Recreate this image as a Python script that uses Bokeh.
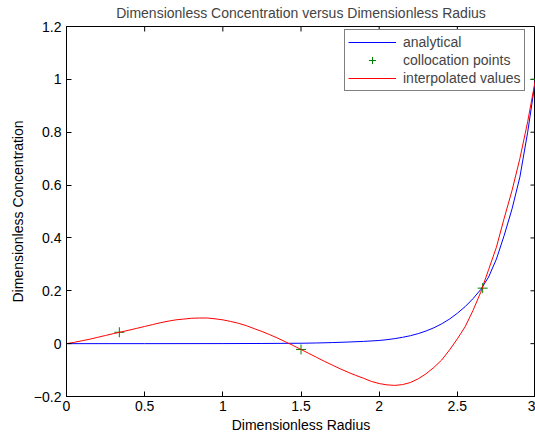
import math
from bokeh.plotting import figure
from bokeh.models import FixedTicker, Legend, LegendItem, Range1d
from bokeh.embed import file_html
from bokeh.resources import INLINE

# ---- data ----
analytical_x = [0, 0.5, 1.0, 1.25, 1.5, 1.6, 1.7, 1.8, 1.9, 2.0, 2.05, 2.1, 2.15, 2.2, 2.25,
                2.3, 2.35, 2.4, 2.45, 2.5, 2.55, 2.6, 2.65, 2.7, 2.75, 2.8, 2.85, 2.9, 2.95, 3.0]
analytical_y = [0, 0, 0.0002, 0.0006, 0.0015, 0.0025, 0.004, 0.006, 0.0085, 0.012, 0.015,
                0.019, 0.024, 0.030, 0.038, 0.048, 0.06, 0.075, 0.093, 0.115, 0.14, 0.17,
                0.205, 0.252, 0.32, 0.41, 0.51, 0.63, 0.8, 1.0]

colloc_x = [0, 0.338, 1.5, 2.662, 3.0]
colloc_y = [0, 0.043, -0.022, 0.21, 1.0]

interp_x = [0, 0.05, 0.1, 0.15, 0.2, 0.25, 0.3, 0.34, 0.4, 0.45, 0.5, 0.55, 0.6, 0.65, 0.7,
            0.75, 0.8, 0.85, 0.9, 0.95, 1.0, 1.05, 1.1, 1.15, 1.2, 1.25, 1.3, 1.35, 1.4,
            1.45, 1.5, 1.55, 1.6, 1.65, 1.7, 1.75, 1.8, 1.85, 1.9, 1.95, 2.0, 2.05, 2.1,
            2.15, 2.2, 2.25, 2.3, 2.35, 2.4, 2.45, 2.5, 2.55, 2.6, 2.65, 2.7, 2.75, 2.8,
            2.85, 2.9, 2.95, 3.0]
interp_y = [0, 0.005, 0.011, 0.017, 0.024, 0.031, 0.038, 0.043, 0.051, 0.058, 0.065, 0.072,
            0.079, 0.085, 0.090, 0.093, 0.096, 0.097, 0.097, 0.094, 0.090, 0.084, 0.077,
            0.068, 0.057, 0.046, 0.034, 0.021, 0.007, -0.007, -0.022, -0.037, -0.052,
            -0.067, -0.081, -0.095, -0.108, -0.120, -0.131, -0.143, -0.151, -0.156, -0.158,
            -0.155, -0.147, -0.133, -0.114, -0.090, -0.062, -0.024, 0.018, 0.064, 0.125,
            0.195, 0.28, 0.365, 0.475, 0.58, 0.70, 0.84, 1.0]

x_ticks = [0, 0.5, 1, 1.5, 2, 2.5, 3]
x_tick_labels = ["0", "0.5", "1", "1.5", "2", "2.5", "3"]
y_ticks = [-0.2, 0, 0.2, 0.4, 0.6, 0.8, 1, 1.2]
y_tick_labels = ["\u22120.2", "0", "0.2", "0.4", "0.6", "0.8", "1", "1.2"]

FONT = "Liberation Sans"
FS = "14px"

p = figure(width=535, height=437, output_backend="svg", toolbar_location=None,
           x_range=Range1d(x_ticks[0], x_ticks[-1]), y_range=Range1d(y_ticks[0], y_ticks[-1]),
           x_axis_label="Dimensionless Radius", y_axis_label="Dimensionless Concentration",
           title="Dimensionless Concentration versus Dimensionless Radius",
           min_border_left=66, min_border_right=0, min_border_top=25, min_border_bottom=41)

p.title.align = "center"
p.title.vertical_align = "top"
p.title.text_font = FONT
p.title.text_font_size = FS
p.title.text_font_style = "normal"
p.title.text_line_height = 1.0
p.title.standoff = 8
p.title.offset = -3

p.xgrid.visible = False
p.ygrid.visible = False
p.outline_line_color = "black"
p.outline_line_width = 1
p.background_fill_color = "white"
p.border_fill_color = "white"


def style_axis(ax, ticks, labels):
    ax.ticker = FixedTicker(ticks=ticks)
    ax.major_label_overrides = {t: l for t, l in zip(ticks, labels)}
    ax.major_tick_in = 5
    ax.major_tick_out = 0
    ax.minor_tick_line_color = None
    ax.axis_line_color = "black"
    ax.major_tick_line_color = "black"
    ax.major_label_text_font = FONT
    ax.major_label_text_font_size = FS
    ax.major_label_text_color = "black"
    ax.axis_label_text_font = FONT
    ax.axis_label_text_font_size = FS
    ax.axis_label_text_font_style = "normal"
    ax.axis_label_text_color = "black"


style_axis(p.xaxis[0], x_ticks, x_tick_labels)
p.xaxis[0].major_label_standoff = 4
p.xaxis[0].axis_label_standoff = 3
style_axis(p.yaxis[0], y_ticks, y_tick_labels)
p.yaxis[0].major_label_standoff = 5
p.yaxis[0].axis_label_standoff = 5

# inward tick marks on the top and right edges of the box (clipped to the frame)
p.scatter(x=x_ticks, y=[y_ticks[-1]] * len(x_ticks), marker="dash", angle=math.pi / 2,
          size=10, line_color="black", line_width=1)
p.scatter(x=[x_ticks[-1]] * len(y_ticks), y=y_ticks, marker="dash",
          size=10, line_color="black", line_width=1)

r1 = p.line(analytical_x, analytical_y, line_color="#0000ff", line_width=1)
r2 = p.scatter(colloc_x, colloc_y, marker="cross", size=10, line_color="#008000", line_width=1)
r3 = p.line(interp_x, interp_y, line_color="#ff0000", line_width=1)

legend = Legend(items=[LegendItem(label="analytical", renderers=[r1]),
                       LegendItem(label="collocation points", renderers=[r2]),
                       LegendItem(label="interpolated values", renderers=[r3])],
                location=(278, 305), margin=0, padding=3, spacing=0,
                glyph_width=48, glyph_height=18, label_height=18, label_standoff=7,
                label_text_font=FONT, label_text_font_size=FS,
                border_line_color="black", border_line_width=1,
                background_fill_color="white", background_fill_alpha=1)
p.add_layout(legend, "center")

open("out.html", "w").write(file_html(p, INLINE))
